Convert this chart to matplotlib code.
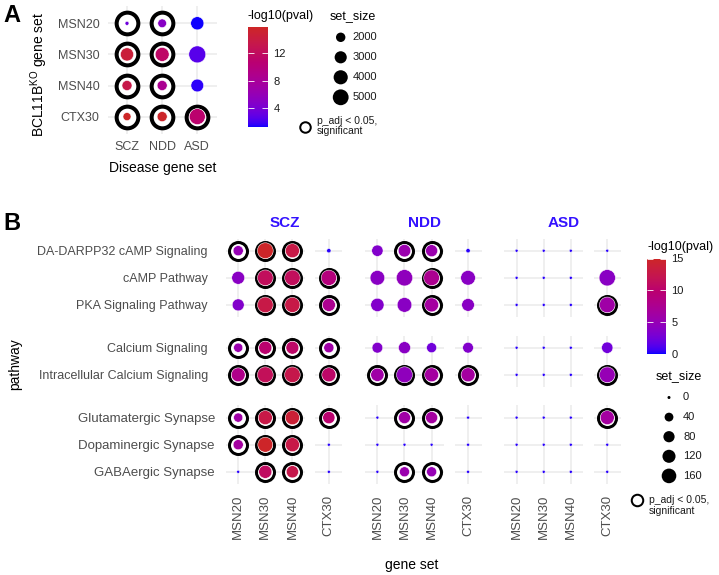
import numpy as np
import matplotlib
matplotlib.use("Agg")
import matplotlib.pyplot as plt
from matplotlib.colors import ListedColormap, Normalize
from matplotlib.cm import ScalarMappable

plt.rcParams['font.family'] = ['Liberation Sans', 'DejaVu Sans']

W, H, DPI = 719, 575, 100
PX = 72 / DPI  # points per pixel

# ---------------- panel A data ----------------
a_rows = ['MSN20', 'MSN30', 'MSN40', 'CTX30']
a_cols = ['SCZ', 'NDD', 'ASD']
a_logp = [[3.5, 5.0, 1.3],
          [14.5, 11.5, 2.6],
          [13.5, 8.5, 1.6],
          [15.7, 15.5, 11.0]]
a_size = [[1200, 1800, 3500],
          [3500, 3900, 5800],
          [2200, 2200, 3300],
          [1650, 2200, 5100]]
a_sig = [[1, 1, 0],
         [1, 1, 0],
         [1, 1, 0],
         [1, 1, 1]]
a_size_breaks = [2000, 3000, 4000, 5000]
a_cbar_ticks = [4, 8, 12]

# ---------------- panel B data ----------------
pathways = ['DA-DARPP32 cAMP Signaling', 'cAMP Pathway', 'PKA Signaling Pathway',
            'Calcium Signaling', 'Intracellular Calcium Signaling',
            'Glutamatergic Synapse', 'Dopaminergic Synapse', 'GABAergic Synapse']
blocks = [[0, 1, 2], [3, 4], [5, 6, 7]]
genesets = ['MSN20', 'MSN30', 'MSN40', 'CTX30']
diseases = ['SCZ', 'NDD', 'ASD']

b_logp = {
    'SCZ': [[5.0, 14.8, 12.8, 0.3], [4.0, 11.3, 11.3, 9.0], [3.5, 12.8, 12.8, 7.5],
            [5.5, 10.0, 10.5, 6.0], [8.0, 11.5, 12.5, 10.5],
            [6.0, 12.8, 14.0, 10.0], [6.5, 14.8, 12.8, 0.3], [0.3, 11.0, 12.5, 0.3]],
    'NDD': [[3.5, 5.5, 5.5, 0.3], [4.0, 4.5, 7.5, 4.0], [3.5, 4.0, 6.5, 4.0],
            [3.5, 4.0, 2.5, 3.5], [6.0, 4.5, 6.5, 6.5],
            [0.3, 6.0, 6.5, 0.3], [0.3, 0.3, 0.3, 0.3], [0.3, 5.5, 5.0, 0.3]],
    'ASD': [[0.3, 0.3, 0.3, 0.3], [0.3, 0.3, 0.3, 4.0], [0.3, 0.3, 0.3, 6.0],
            [0.3, 0.3, 0.3, 2.5], [0.3, 0.3, 0.3, 5.0],
            [0.3, 0.3, 0.3, 6.5], [0.3, 0.3, 0.3, 0.3], [0.3, 0.3, 0.3, 0.3]],
}
b_size = {
    'SCZ': [[60, 195, 145, 2], [115, 190, 185, 180], [95, 190, 175, 120],
            [45, 120, 115, 60], [140, 195, 190, 145],
            [45, 145, 150, 100], [60, 170, 145, 0], [0, 120, 100, 0]],
    'NDD': [[82, 107, 96, 2], [160, 210, 190, 160], [125, 160, 143, 110],
            [70, 96, 58, 70], [125, 200, 143, 143],
            [0, 96, 96, 0], [0, 0, 0, 0], [0, 58, 58, 0]],
    'ASD': [[0, 0, 0, 0], [0, 0, 0, 210], [0, 0, 0, 190],
            [0, 0, 0, 82], [0, 0, 0, 190],
            [0, 0, 0, 143], [0, 0, 0, 0], [0, 0, 0, 0]],
}
b_sig = {
    'SCZ': [[1, 1, 1, 0], [0, 1, 1, 1], [0, 1, 1, 1], [1, 1, 1, 1], [1, 1, 1, 1],
            [1, 1, 1, 1], [1, 1, 1, 0], [0, 1, 1, 0]],
    'NDD': [[0, 1, 1, 0], [0, 0, 1, 0], [0, 0, 1, 0], [0, 0, 0, 0], [1, 1, 1, 1],
            [0, 1, 1, 0], [0, 0, 0, 0], [0, 1, 1, 0]],
    'ASD': [[0, 0, 0, 0], [0, 0, 0, 0], [0, 0, 0, 1], [0, 0, 0, 0], [0, 0, 0, 1],
            [0, 0, 0, 1], [0, 0, 0, 0], [0, 0, 0, 0]],
}
b_size_breaks = [0, 40, 80, 120, 160]
b_cbar_ticks = [0, 5, 10, 15]


# ---------------- colour scale (blue -> firebrick, Lab interpolation) ----------------
def _to_lab(rgb):
    c = np.asarray(rgb, float)
    c = np.where(c <= 0.04045, c / 12.92, ((c + 0.055) / 1.055) ** 2.4)
    M = np.array([[0.4124, 0.3576, 0.1805], [0.2126, 0.7152, 0.0722], [0.0193, 0.1192, 0.9505]])
    xyz = M @ c / np.array([0.95047, 1.0, 1.08883])
    d = 6 / 29
    f = np.where(xyz > d ** 3, np.cbrt(xyz), xyz / (3 * d * d) + 4 / 29)
    return np.array([116 * f[1] - 16, 500 * (f[0] - f[1]), 200 * (f[1] - f[2])])


def _from_lab(lab):
    L, a, b = lab
    fy = (L + 16) / 116
    f = np.array([fy + a / 500, fy, fy - b / 200])
    d = 6 / 29
    xyz = np.where(f > d, f ** 3, 3 * d * d * (f - 4 / 29)) * np.array([0.95047, 1.0, 1.08883])
    Minv = np.linalg.inv(np.array([[0.4124, 0.3576, 0.1805], [0.2126, 0.7152, 0.0722],
                                   [0.0193, 0.1192, 0.9505]]))
    c = np.clip(Minv @ xyz, 0, 1)
    return np.clip(np.where(c <= 0.0031308, 12.92 * c, 1.055 * c ** (1 / 2.4) - 0.055), 0, 1)


lo, hi = _to_lab([0, 0, 1]), _to_lab([0xCD / 255, 0x26 / 255, 0x26 / 255])
cmap = ListedColormap([_from_lab(lo + t * (hi - lo)) for t in np.linspace(0, 1, 256)])

fig = plt.figure(figsize=(W / DPI, H / DPI), dpi=DPI)
TICK_COL = '#4D4D4D'
GRID_COL = '#EBEBEB'


def px_axes(left, top, width, height):
    return fig.add_axes([left / W, 1 - (top + height) / H, width / W, height / H])


def ftext(x, y, s, **kw):
    fig.text(x / W, 1 - y / H, s, **kw)


def style_panel(ax, nx, ny, xexp, yexp):
    ax.set_xlim(-xexp, nx - 1 + xexp)
    ax.set_ylim(ny - 1 + yexp, -yexp)
    ax.set_xticks(range(nx))
    ax.set_yticks(range(ny))
    ax.grid(True, color=GRID_COL, lw=1.1)
    ax.set_axisbelow(True)
    for s in ax.spines.values():
        s.set_visible(False)
    ax.tick_params(length=0, labelbottom=False, labelleft=False)


def colorbar(left, top, width, height, vmin, vmax, ticks, fs):
    cax = px_axes(left, top, width, height)
    cb = fig.colorbar(ScalarMappable(Normalize(vmin, vmax), cmap), cax=cax)
    cb.outline.set_visible(False)
    cb.set_ticks(ticks)
    cax.tick_params(which='both', direction='in', length=4, width=0.6, color='white',
                    left=True, right=True, labelsize=fs, labelcolor='#1A1A1A', pad=4)
    cax.minorticks_off()


# ================= panel A =================
ux, uy = 35.15, 31.1
axA = px_axes(127 - 0.55 * ux, 23.3 - 0.55 * uy, 3.1 * ux, 4.1 * uy)
style_panel(axA, 3, 4, 0.55, 0.55)
normA = Normalize(1.24, 15.78)


def dA(v):
    return 4 + 13 * np.sqrt(np.clip((np.asarray(v, float) - 1200) / 4600, 0, None))


xx, yy = np.meshgrid(range(3), range(4))
sigA = np.array(a_sig).astype(bool)
axA.scatter(xx[sigA], yy[sigA], s=(21.7 * PX) ** 2, facecolors='white', edgecolors='black',
            linewidths=4 * PX, zorder=2, clip_on=False)
axA.scatter(xx.ravel(), yy.ravel(), s=(dA(np.ravel(a_size)) * PX) ** 2, c=np.ravel(a_logp),
            cmap=cmap, norm=normA, edgecolors='white', linewidths=0.4, zorder=3, clip_on=False)
axA.tick_params(labelbottom=True, labelleft=True, labelsize=9, labelcolor=TICK_COL, pad=6)
axA.set_xticklabels(a_cols)
axA.set_yticklabels(a_rows)
axA.tick_params(axis='x', pad=5)
ftext(163, 168, 'Disease gene set', fontsize=10, ha='center', va='center')
ftext(39, 74, r'BCL11B$^{\mathregular{KO}}$ gene set', fontsize=10, rotation=90,
      ha='center', va='center')
ftext(3, 15, 'A', fontsize=17, fontweight='bold', va='center')

# legends A
ftext(248, 16, '-log10(pval)', fontsize=9, va='center')
colorbar(248, 27.3, 20, 100, 1.24, 15.78, a_cbar_ticks, 8)

ftext(330, 16, 'set_size', fontsize=9, va='center')
legA = px_axes(330, 27.3, 60, 80)
legA.set_xlim(0, 60)
legA.set_ylim(80, 0)
legA.axis('off')
ly = 10 + 20 * np.arange(len(a_size_breaks))
legA.scatter(np.full(len(ly), 10.7), ly, s=(dA(a_size_breaks) * PX) ** 2, c='black', lw=0)
for yv, lab in zip(ly, a_size_breaks):
    legA.text(22.7, yv, str(lab), fontsize=8, va='center', color='#1A1A1A')

sigleg = px_axes(297, 115, 100, 30)
sigleg.set_xlim(0, 100)
sigleg.set_ylim(30, 0)
sigleg.axis('off')
sigleg.scatter([8], [11.7], s=(10.5 * PX) ** 2, facecolors='white', edgecolors='black',
               linewidths=2 * PX)
sigleg.text(19.7, 11, 'p_adj < 0.05,\nsignificant', fontsize=7.5, va='center',
            linespacing=1.05, color='#1A1A1A')

# ================= panel B =================
u = 27.1
row_top = [238.5, 335.5, 405.4]
dis_left = [226.0, 365.2, 504.4]
grp_cols = [[0, 1, 2], [3]]
grp_off = [0.0, 89.3]
grp_exp = [0.45, 0.5]
normB = Normalize(0, 15)


def dB(v):
    return 3 + 13 * np.sqrt(np.asarray(v, float) / 200)


for di, dis in enumerate(diseases):
    logp = np.array(b_logp[dis])
    size = np.array(b_size[dis])
    sig = np.array(b_sig[dis]).astype(bool)
    for bi, rows in enumerate(blocks):
        for gi, cols in enumerate(grp_cols):
            nx, ny = len(cols), len(rows)
            e = grp_exp[gi]
            ax = px_axes(dis_left[di] + grp_off[gi], row_top[bi],
                         (nx - 1 + 2 * e) * u, (ny - 1 + 0.9) * u)
            style_panel(ax, nx, ny, e, 0.45)
            gx, gy = np.meshgrid(range(nx), range(ny))
            sub_sig = sig[np.ix_(rows, cols)]
            ax.scatter(gx[sub_sig], gy[sub_sig], s=(18 * PX) ** 2, facecolors='white',
                       edgecolors='black', linewidths=3 * PX, zorder=2, clip_on=False)
            ax.scatter(gx.ravel(), gy.ravel(),
                       s=(dB(size[np.ix_(rows, cols)].ravel()) * PX) ** 2,
                       c=logp[np.ix_(rows, cols)].ravel(), cmap=cmap, norm=normB,
                       edgecolors='white', linewidths=0.35, zorder=3, clip_on=False)
            if di == 0 and gi == 0:
                ax.tick_params(labelleft=True, labelsize=9, labelcolor=TICK_COL, pad=13)
                ax.set_yticklabels([pathways[r] for r in rows])
            if bi == 2:
                ax.tick_params(labelbottom=True, labelsize=9.5, labelcolor=TICK_COL, pad=8)
                ax.set_xticklabels([genesets[c] for c in cols], rotation=90)
    ftext(dis_left[di] + 59, 223, dis, fontsize=11, fontweight='bold', color='#3311FF',
          ha='center', va='center')

ftext(3, 224, 'B', fontsize=17, fontweight='bold', va='center')
ftext(15, 364, 'pathway', fontsize=10, rotation=90, ha='center', va='center')
ftext(412, 565, 'gene set', fontsize=10, ha='center', va='center')

# legends B
ftext(647, 247, '-log10(pval)', fontsize=9, va='center')
colorbar(647, 258.5, 19, 95.5, 0, 15, b_cbar_ticks, 8)

ftext(656, 376, 'set_size', fontsize=9, va='center')
legB = px_axes(650, 386, 60, 100)
legB.set_xlim(0, 60)
legB.set_ylim(100, 0)
legB.axis('off')
ly = 11.5 + 19.6 * np.arange(len(b_size_breaks))
legB.scatter(np.full(len(ly), 19), ly, s=(dB(b_size_breaks) * PX) ** 2, c='black', lw=0)
for yv, lab in zip(ly, b_size_breaks):
    legB.text(33, yv, str(lab), fontsize=8, va='center', color='#1A1A1A')

sigB = px_axes(628, 490, 91, 30)
sigB.set_xlim(0, 91)
sigB.set_ylim(30, 0)
sigB.axis('off')
sigB.scatter([9], [10], s=(11.5 * PX) ** 2, facecolors='white', edgecolors='black',
             linewidths=2 * PX)
sigB.text(21, 15.5, 'p_adj < 0.05,\nsignificant', fontsize=7.5, va='center',
          linespacing=1.05, color='#1A1A1A')

fig.savefig('out.png', dpi=DPI)
